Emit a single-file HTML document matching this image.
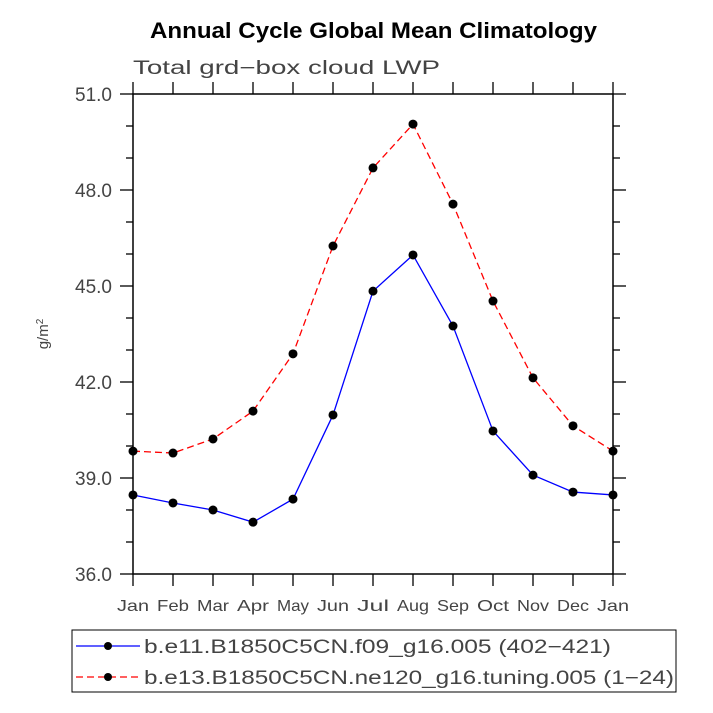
<!DOCTYPE html>
<html><head><meta charset="utf-8"><style>
html,body{margin:0;padding:0;background:#fff;}
svg{display:block;font-family:"Liberation Sans",sans-serif;}
</style></head><body>
<svg id="chart" width="713" height="713" viewBox="0 0 713 713">
<text x="150" y="38" textLength="447" lengthAdjust="spacingAndGlyphs" font-size="22" font-weight="bold">Annual Cycle Global Mean Climatology</text>
<text x="133" y="74" textLength="307" lengthAdjust="spacingAndGlyphs" font-size="19" fill="#444">Total grd−box cloud LWP</text>
<text transform="translate(48,334) rotate(-90)" text-anchor="middle" font-size="15" fill="#444">g/m<tspan dy="-5" font-size="10">2</tspan></text>
<g id="axes"></g>
<g id="series"></g>
<g>
<rect x="72" y="630" width="604" height="62" fill="none" stroke="#000" stroke-width="1"/>
<line x1="76" y1="646" x2="140" y2="646" stroke="#0000ff" stroke-width="1.3"/>
<circle cx="108" cy="646" r="4" fill="#000"/>
<text x="144" y="653" textLength="467" lengthAdjust="spacingAndGlyphs" font-size="19" fill="#444">b.e11.B1850C5CN.f09_g16.005 (402−421)</text>
<line x1="76" y1="677" x2="140" y2="677" stroke="#ff0000" stroke-width="1.3" stroke-dasharray="7,4"/>
<circle cx="108" cy="677" r="4" fill="#000"/>
<text x="144" y="684" textLength="530" lengthAdjust="spacingAndGlyphs" font-size="19" fill="#444">b.e13.B1850C5CN.ne120_g16.tuning.005 (1−24)</text>
</g>
</svg>
<script>
const months = ["Jan","Feb","Mar","Apr","May","Jun","Jul","Aug","Sep","Oct","Nov","Dec","Jan"];
const blueValues = [38.47,38.22,38.0,37.62,38.34,40.97,44.84,45.97,43.75,40.47,39.09,38.56,38.47];
const redValues = [39.84,39.78,40.22,41.09,42.88,46.25,48.69,50.06,47.56,44.53,42.13,40.63,39.84];
const yTicks = [36.0,39.0,42.0,45.0,48.0,51.0];
const yMin = 36, yMax = 51;
const L=133,R=613,T=94,B=574;
const NS="http://www.w3.org/2000/svg";
function xs(i){return L+i*(R-L)/(months.length-1);}
function ys(v){return B-(v-yMin)/(yMax-yMin)*(B-T);}
function mk(tag,attrs,parent){const e=document.createElementNS(NS,tag);for(const k in attrs)e.setAttribute(k,attrs[k]);parent.appendChild(e);return e;}
const ax=document.getElementById('axes');
const frame=mk('rect',{x:L,y:T,width:R-L,height:B-T,fill:'none',stroke:'#000','stroke-width':1.5},ax);


months.forEach((m,i)=>{
  const x=xs(i);
  const t1=mk('line',{x1:x,y1:B,x2:x,y2:B+12,stroke:'#000','stroke-width':1.3},ax);
  
  
  const t2=mk('line',{x1:x,y1:T,x2:x,y2:T-12,stroke:'#000','stroke-width':1.3},ax);
  
  
  const lb=mk('text',{x:x,y:B+37,'text-anchor':'middle','font-size':16,fill:'#444',textLength:32,lengthAdjust:'spacingAndGlyphs'},ax);
  lb.textContent=m;
  
  
});
for(let v=yMin;v<=yMax;v+=1){
  const major=yTicks.includes(v);const len=major?13:7;const y=ys(v);
  const a=mk('line',{x1:L-len,y1:y,x2:L,y2:y,stroke:'#000','stroke-width':1.3},ax);
  
  
  const b=mk('line',{x1:R,y1:y,x2:R+len,y2:y,stroke:'#000','stroke-width':1.3},ax);
  
  
}
yTicks.forEach(v=>{
  const lb=mk('text',{x:112,y:ys(v)+7,'text-anchor':'end','font-size':19,fill:'#444'},ax);
  lb.textContent=v.toFixed(1);
  
  
});
const sg=document.getElementById('series');
function drawSeries(vals,color,dash,name){
  const p=mk('polyline',{points:vals.map((v,i)=>xs(i)+','+ys(v)).join(' '),fill:'none',stroke:color,'stroke-width':1.3,'stroke-dasharray':dash},sg);
  
  
  vals.forEach((v,i)=>{
    const c=mk('circle',{cx:xs(i),cy:ys(v),r:4.5,fill:'#000'},sg);
    
    
  });
}
drawSeries(blueValues,'#0000ff','none','blue-series');
drawSeries(redValues,'#ff0000','7,4','red-series');
</script>
</body></html>
